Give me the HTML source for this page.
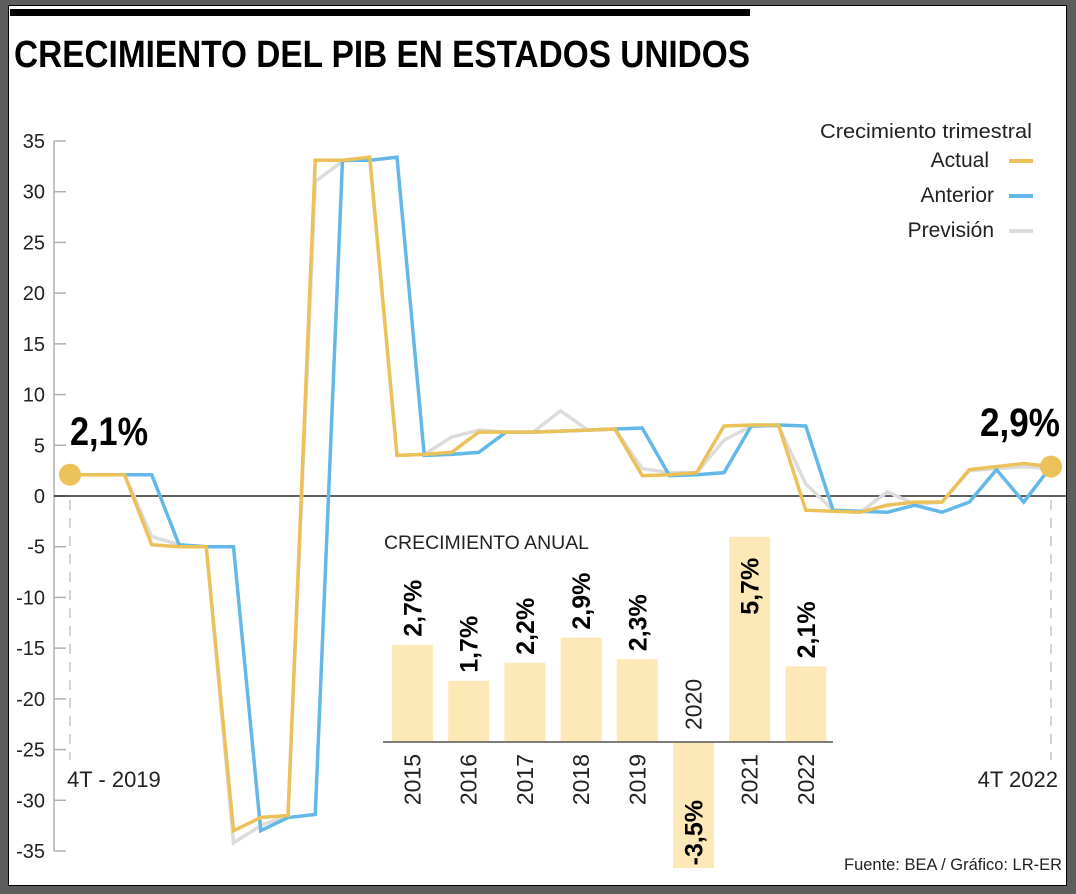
<!DOCTYPE html>
<html><head><meta charset="utf-8"><style>
html,body{margin:0;padding:0;background:#5d5d5d;}
svg{display:block;font-family:"Liberation Sans",sans-serif;}
</style></head><body>
<svg id="chart" width="1076" height="894" viewBox="0 0 1076 894" xmlns="http://www.w3.org/2000/svg">
<rect x="8.5" y="5.5" width="1058" height="880" fill="#fff" stroke="#000" stroke-width="1"/>
<rect x="10" y="9" width="740" height="7" fill="#000"/>
<text x="14" y="67" font-size="38" font-weight="bold" textLength="736" lengthAdjust="spacingAndGlyphs">CRECIMIENTO DEL PIB EN ESTADOS UNIDOS</text>
<g id="axes"></g>
<g id="inset"></g>
<g id="lines"></g>
<g>
<text x="1032" y="138" font-size="20" text-anchor="end" fill="#222" textLength="212" lengthAdjust="spacingAndGlyphs">Crecimiento trimestral</text>
<text x="989" y="167" font-size="21" text-anchor="end" fill="#222">Actual</text>
<rect x="1009" y="159" width="24" height="4" fill="#ebc15a"/>
<text x="994" y="202" font-size="21" text-anchor="end" fill="#222">Anterior</text>
<rect x="1009" y="194" width="24" height="4" fill="#62b8e8"/>
<text x="994" y="237" font-size="21" text-anchor="end" fill="#222">Previsión</text>
<rect x="1009" y="229" width="24" height="4" fill="#dcdcdc"/>
</g>
<text x="70" y="445" font-size="40" font-weight="bold" textLength="78" lengthAdjust="spacingAndGlyphs">2,1%</text>
<text x="1060" y="436" font-size="40" font-weight="bold" text-anchor="end" textLength="80" lengthAdjust="spacingAndGlyphs">2,9%</text>
<text x="67" y="787" font-size="22" fill="#222">4T - 2019</text>
<text x="1058" y="787" font-size="22" fill="#222" text-anchor="end">4T 2022</text>
<text x="1062" y="870" font-size="17" fill="#222" text-anchor="end" textLength="218" lengthAdjust="spacingAndGlyphs">Fuente: BEA / Gráfico: LR-ER</text>
</svg>
<script>
const yTicks = [35,30,25,20,15,10,5,0,-5,-10,-15,-20,-25,-30,-35];
const actual = [2.1,2.1,2.1,-4.8,-5,-5,-33,-31.7,-31.5,33.1,33.1,33.4,4.0,4.1,4.3,6.3,6.3,6.3,6.4,6.5,6.6,2.0,2.1,2.3,6.9,7.0,7.0,-1.4,-1.5,-1.6,-0.9,-0.6,-0.6,2.6,2.9,3.2,2.9];
const anterior = [2.1,2.1,2.1,2.1,-4.8,-5,-5,-33,-31.7,-31.4,33.1,33.1,33.4,4.0,4.1,4.3,6.3,6.3,6.4,6.5,6.6,6.7,2.0,2.1,2.3,6.9,7.0,6.9,-1.4,-1.5,-1.6,-0.9,-1.6,-0.6,2.6,-0.6,2.9];
const prevision = [2.1,2.1,2.1,-4.0,-4.8,-5,-34.2,-32.5,-31.5,31.0,33.0,33.3,4.0,4.1,5.8,6.5,6.3,6.3,8.4,6.5,6.6,2.7,2.3,2.3,5.5,6.9,6.9,1.2,-1.4,-1.6,0.4,-0.8,-0.6,2.5,2.7,2.9,2.7];
const years = ["2015","2016","2017","2018","2019","2020","2021","2022"];
const annual = [2.7,1.7,2.2,2.9,2.3,-3.5,5.7,2.1];
const annualLabels = ["2,7%","1,7%","2,2%","2,9%","2,3%","-3,5%","5,7%","2,1%"];

const NS="http://www.w3.org/2000/svg";
function mk(tag,attrs,parent){const e=document.createElementNS(NS,tag);for(const k in attrs)e.setAttribute(k,attrs[k]);parent.appendChild(e);return e;}
const yScale=v=>496-v*(355/35);
const xScale=i=>70+i*(981/36);
const axes=document.getElementById('axes');
const yl=mk('line',{x1:54,x2:54,y1:yScale(35),y2:yScale(-35),stroke:'#b0b0b0','stroke-width':1.5},axes);


yTicks.forEach(t=>{
  const tk=mk('line',{x1:54,x2:66,y1:yScale(t),y2:yScale(t),stroke:'#b0b0b0','stroke-width':1.5},axes);
  
  
  const tx=mk('text',{x:45,y:yScale(t)+7,'font-size':20,'text-anchor':'end',fill:'#222'},axes);
  tx.textContent=(t<0?'-':'')+Math.abs(t);
  
  
});
const zl=mk('line',{x1:54,x2:1066,y1:yScale(0),y2:yScale(0),stroke:'#000','stroke-width':1.2},axes);


[0,36].forEach(i=>{
  const d=mk('line',{x1:xScale(i),x2:xScale(i),y1:yScale(0)+4,y2:760,stroke:'#aaa','stroke-width':1,'stroke-dasharray':'10,8'},axes);
  
  
});

const inset=document.getElementById('inset');
const base=742, unit=36, bx0=392, bstep=56.2, bw=41;
const it=mk('text',{x:384,y:549,'font-size':19,fill:'#222',textLength:205,lengthAdjust:'spacingAndGlyphs'},inset);
it.textContent='CRECIMIENTO ANUAL';


annual.forEach((v,i)=>{
  const x=bx0+i*bstep;
  const top=v>=0?base-v*unit:base, h=Math.abs(v)*unit;
  const r=mk('rect',{x:x,y:top,width:bw,height:h,fill:'#fde8b8'},inset);
  
  
  const cx=x+bw/2+9;
  let vl;
  if(v>=0){
    vl=mk('text',{x:0,y:0,'font-size':25,'font-weight':'bold',transform:`translate(${cx},${v>5?top+78:top-8}) rotate(-90)`},inset);
  } else {
    vl=mk('text',{x:0,y:0,'font-size':25,'font-weight':'bold','text-anchor':'end',transform:`translate(${cx},${base+58}) rotate(-90)`},inset);
  }
  vl.textContent=annualLabels[i];
  
  
  const yl2=mk('text',{x:0,y:0,'font-size':23,fill:'#222','text-anchor':v>=0?'end':'start',transform:v>=0?`translate(${cx-1},${base+12}) rotate(-90)`:`translate(${cx-1},${base-12}) rotate(-90)`},inset);
  yl2.textContent=years[i];
  
  
});
const bl=mk('line',{x1:383,x2:833,y1:base,y2:base,stroke:'#555','stroke-width':1.5},inset);



const lines=document.getElementById('lines');
function series(arr,color,name){
  const p=mk('polyline',{points:arr.map((v,i)=>xScale(i)+','+yScale(v)).join(' '),fill:'none',stroke:color,'stroke-width':3.5,'stroke-linejoin':'miter'},lines);
  
  
}
series(prevision,'#dcdcdc','prevision-line');
series(anterior,'#62b8e8','anterior-line');
series(actual,'#ebc15a','actual-line');
[0,36].forEach(i=>{
  const c=mk('circle',{cx:xScale(i),cy:yScale(actual[i]),r:11,fill:'#ebc15a'},lines);
  
  
});
</script>
</body></html>
